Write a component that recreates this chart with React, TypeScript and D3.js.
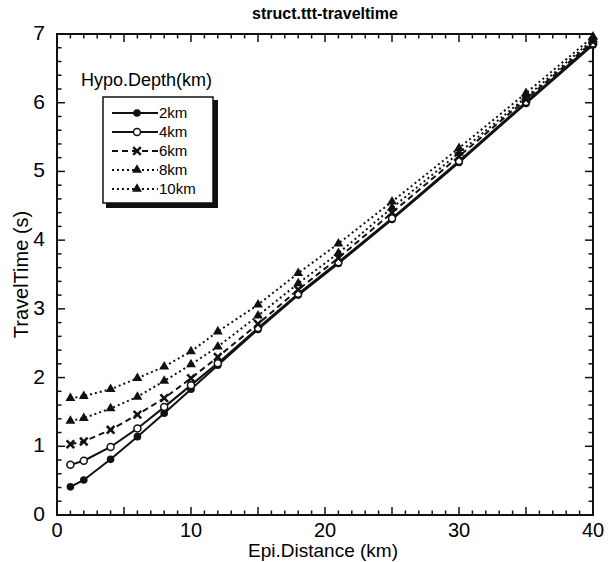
import React, { useEffect, useRef } from "react";
import * as d3 from "d3";

// epicentral distances (km)
const distances = [1, 2, 4, 6, 8, 10, 12, 15, 18, 21, 25, 30, 35, 40];

// travel times (s) per hypocentral depth
const depth2 = [0.41, 0.51, 0.81, 1.14, 1.48, 1.83, 2.18, 2.7, 3.2, 3.66, 4.3, 5.13, 5.99, 6.84];
const depth4 = [0.73, 0.79, 0.99, 1.26, 1.57, 1.89, 2.21, 2.72, 3.22, 3.68, 4.32, 5.15, 6.01, 6.86];
const depth6 = [1.03, 1.07, 1.24, 1.46, 1.7, 1.99, 2.3, 2.78, 3.28, 3.74, 4.4, 5.22, 6.05, 6.89];
const depth8 = [1.37, 1.41, 1.55, 1.72, 1.95, 2.19, 2.45, 2.9, 3.37, 3.81, 4.47, 5.27, 6.08, 6.92];
const depth10 = [1.7, 1.73, 1.83, 1.99, 2.16, 2.38, 2.67, 3.06, 3.52, 3.95, 4.56, 5.34, 6.14, 6.96];

const seriesNames = ["2km", "4km", "6km", "8km", "10km"];
const xTickLabels = [0, 10, 20, 30, 40];
const yTickLabels = [0, 1, 2, 3, 4, 5, 6, 7];

const FONT = "'Liberation Sans', Arial, Helvetica, sans-serif";

export default function App() {
  const ref = useRef<SVGSVGElement | null>(null);

  useEffect(() => {
    const W = 612;
    const H = 562;
    const margin = { top: 34, right: 19, bottom: 47, left: 57 };
    const width = W - margin.left - margin.right;
    const height = H - margin.top - margin.bottom;

    const svg = d3.select(ref.current);
    svg.selectAll("*").remove();
    svg.attr("width", W).attr("height", H).attr("viewBox", `0 0 ${W} ${H}`);
    svg.append("rect").attr("width", W).attr("height", H).attr("fill", "#fff");

    const g = svg.append("g").attr("transform", `translate(${margin.left},${margin.top})`);

    const x = d3.scaleLinear().domain([0, 40]).range([0, width]);
    const y = d3.scaleLinear().domain([0, 7]).range([height, 0]);

    // ticks pointing inward on all four sides
    const xMinor = d3.range(0, 41, 1);
    const yMinor = d3.range(0, 7.01, 0.2);
    const tickLen = (major: boolean) => (major ? 8 : 4.5);
    const ticks = g.append("g").attr("stroke", "#111").attr("stroke-width", 1.5);
    xMinor.forEach((v) => {
      const L = tickLen(v % 5 === 0);
      ticks.append("line").attr("x1", x(v)).attr("x2", x(v)).attr("y1", height).attr("y2", height - L);
      ticks.append("line").attr("x1", x(v)).attr("x2", x(v)).attr("y1", 0).attr("y2", L);
    });
    yMinor.forEach((v) => {
      const major = Math.abs(v - Math.round(v)) < 1e-6;
      const L = tickLen(major);
      ticks.append("line").attr("x1", 0).attr("x2", L).attr("y1", y(v)).attr("y2", y(v));
      ticks.append("line").attr("x1", width).attr("x2", width - L).attr("y1", y(v)).attr("y2", y(v));
    });

    // frame
    g.append("rect")
      .attr("width", width)
      .attr("height", height)
      .attr("fill", "none")
      .attr("stroke", "#111")
      .attr("stroke-width", 2);

    // tick labels
    g.append("g")
      .selectAll("text")
      .data(xTickLabels)
      .enter()
      .append("text")
      .attr("x", (d) => x(d))
      .attr("y", height + 22)
      .attr("text-anchor", "middle")
      .attr("font-family", FONT)
      .attr("font-size", 20)
      .text((d) => d);
    g.append("g")
      .selectAll("text")
      .data(yTickLabels)
      .enter()
      .append("text")
      .attr("x", -12)
      .attr("y", (d) => y(d) + 6)
      .attr("text-anchor", "end")
      .attr("font-family", FONT)
      .attr("font-size", 21)
      .text((d) => d);

    // axis titles
    svg.append("text")
      .attr("x", margin.left + width / 2 - 2)
      .attr("y", 557)
      .attr("text-anchor", "middle")
      .attr("font-family", FONT)
      .attr("font-size", 19)
      .text("Epi.Distance (km)");
    svg.append("text")
      .attr("transform", `translate(28,${margin.top + height / 2}) rotate(-90)`)
      .attr("text-anchor", "middle")
      .attr("font-family", FONT)
      .attr("font-size", 20)
      .text("TravelTime (s)");
    svg.append("text")
      .attr("x", margin.left + width / 2)
      .attr("y", 19)
      .attr("text-anchor", "middle")
      .attr("font-family", FONT)
      .attr("font-size", 16)
      .attr("font-weight", 700)
      .text("struct.ttt-traveltime");

    const styles = [
      { dash: null, marker: "dot" },
      { dash: null, marker: "ring" },
      { dash: "6,4", marker: "cross" },
      { dash: "2,3", marker: "tri" },
      { dash: "2,3", marker: "tri" },
    ];
    const allSeries = [depth2, depth4, depth6, depth8, depth10];

    const drawMarker = (sel: any, kind: string, cx: number, cy: number) => {
      if (kind === "dot") {
        sel.append("circle").attr("cx", cx).attr("cy", cy).attr("r", 3.8).attr("fill", "#111");
      } else if (kind === "ring") {
        sel.append("circle").attr("cx", cx).attr("cy", cy).attr("r", 3.5)
          .attr("fill", "#fff").attr("stroke", "#111").attr("stroke-width", 1.5);
      } else if (kind === "cross") {
        const s = 3.8;
        sel.append("path")
          .attr("d", `M${cx - s},${cy - s}L${cx + s},${cy + s}M${cx - s},${cy + s}L${cx + s},${cy - s}`)
          .attr("stroke", "#111").attr("stroke-width", 2.5);
      } else {
        const sym = d3.symbol().type(d3.symbolTriangle).size(42);
        sel.append("path").attr("transform", `translate(${cx},${cy})`).attr("d", sym()).attr("fill", "#111");
      }
    };

    const line = d3
      .line<number>()
      .x((_, i) => x(distances[i]))
      .y((d) => y(d));

    allSeries.forEach((vals, k) => {
      const st = styles[k];
      g.append("path")
        .attr("d", line(vals))
        .attr("fill", "none")
        .attr("stroke", "#111")
        .attr("stroke-width", 2)
        .attr("stroke-dasharray", st.dash);
      const mg = g.append("g");
      vals.forEach((v, i) => drawMarker(mg, st.marker, x(distances[i]), y(v)));
    });

    // legend
    svg.append("text")
      .attr("x", 81)
      .attr("y", 86)
      .attr("font-family", FONT)
      .attr("font-size", 18)
      .text("Hypo.Depth(km)");
    const lg = svg.append("g");
    lg.append("rect").attr("x", 106).attr("y", 100).attr("width", 112).attr("height", 108).attr("fill", "#111");
    lg.append("rect")
      .attr("x", 103)
      .attr("y", 97)
      .attr("width", 110)
      .attr("height", 106)
      .attr("fill", "#fff")
      .attr("stroke", "#111")
      .attr("stroke-width", 1.5);
    seriesNames.forEach((name, k) => {
      const ly = 113 + k * 19;
      const st = styles[k];
      lg.append("line")
        .attr("x1", 112)
        .attr("x2", 158)
        .attr("y1", ly)
        .attr("y2", ly)
        .attr("stroke", "#111")
        .attr("stroke-width", 2)
        .attr("stroke-dasharray", st.dash);
      drawMarker(lg, st.marker, 137, ly);
      lg.append("text")
        .attr("x", 159)
        .attr("y", ly + 5)
        .attr("font-family", FONT)
        .attr("font-size", 15)
        .text(name);
    });
  }, []);

  return (
    <div style={{ position: "absolute", left: 0, top: 0 }}>
      <svg ref={ref} style={{ display: "block" }}></svg>
    </div>
  );
}
